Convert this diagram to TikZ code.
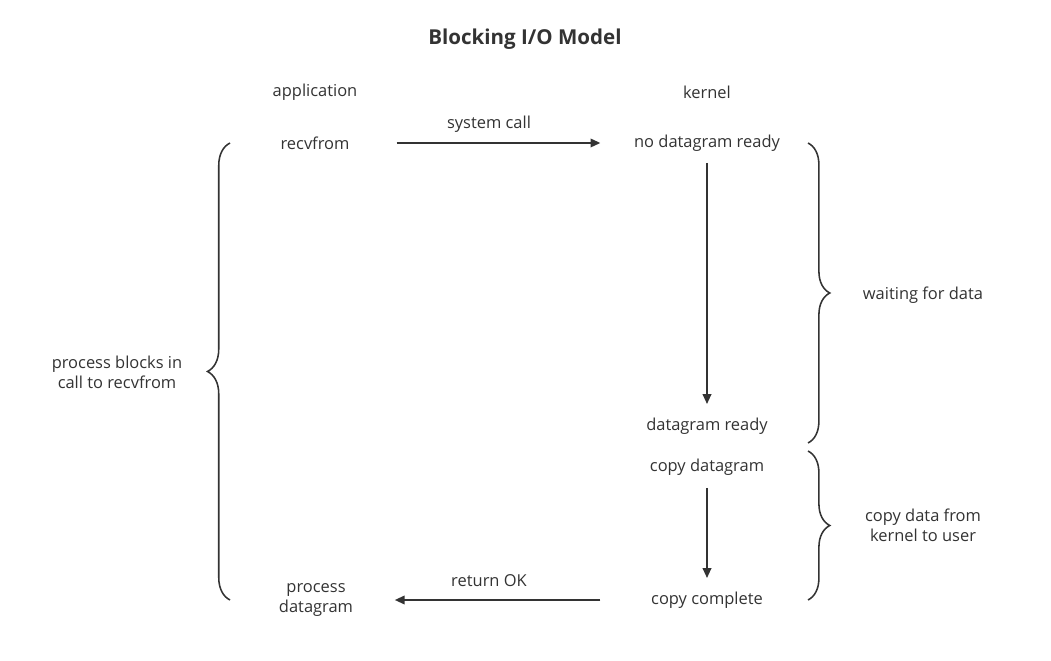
\documentclass[tikz,border=0pt]{standalone}
\usepackage{fontspec}
\setmainfont{Open Sans}
\usepackage{tikz}
\usetikzlibrary{arrows.meta}
\usetikzlibrary{decorations.pathreplacing}
\definecolor{ink}{HTML}{333333}

\begin{document}
\begin{tikzpicture}[x=0.025cm, y=-0.025cm,
    every node/.style={text=ink, font=\fontsize{11.7}{14.2}\selectfont, align=center},
    flow/.style={draw=ink, line width=1.4pt, -{Triangle[length=7pt,width=6pt]}},
    curly/.style={draw=ink, line width=1.1pt, decorate, decoration={brace, amplitude=16pt}}]

                \useasboundingbox (0,0) rectangle (1051,661);

                % Nodes
                \node at (525,39) (title) {\fontsize{14.6}{17}\selectfont\bfseries Blocking I/O Model};
                \node at (315,92) (app) {application};
                \node at (707,92) (kern) {kernel};
                \node at (315,143) (recv) {recvfrom};
                \node at (707,143) (nodgram) {no datagram ready};
                \node at (707,426) (dgready) {datagram ready};
                \node at (707,467) (copydg) {copy datagram};
                \node at (707,600) (copydone) {copy complete};
                \node at (316,600) (procdg) {process\\datagram};
                \node at (489,124) (syscall) {system call};
                \node at (489,581) (retok) {return OK};
                \node at (117,372) (blocks) {process blocks in\\call to recvfrom};
                \node at (923,295) (waiting) {waiting for data};
                \node at (923,525) (copying) {copy data from\\kernel to user};

                % Brace ends
                \coordinate (lbtop) at (230,143);
                \coordinate (lbbot) at (230,600);
                \coordinate (rbtop) at (808,143);
                \coordinate (rbmid) at (808,443);
                \coordinate (rctop) at (808,451);
                \coordinate (rcbot) at (808,600);

                % Arrows
                \draw[flow, shorten <=58pt, shorten >=75.8pt] (recv.center) -- (nodgram.center);
                \draw[flow, shorten <=14.2pt, shorten >=15.6pt] (nodgram.center) -- (dgready.center);
                \draw[flow, shorten <=14.9pt, shorten >=15.6pt] (copydg.center) -- (copydone.center);
                \draw[flow, shorten <=75.8pt, shorten >=56pt] (copydone.center) -- (procdg.center);

                % Braces
                \draw[curly] (lbbot) -- (lbtop);
                \draw[curly, decoration={amplitude=15.5pt}] (rbtop) -- (rbmid);
                \draw[curly, decoration={amplitude=15.5pt}] (rctop) -- (rcbot);

\end{tikzpicture}
\end{document}
